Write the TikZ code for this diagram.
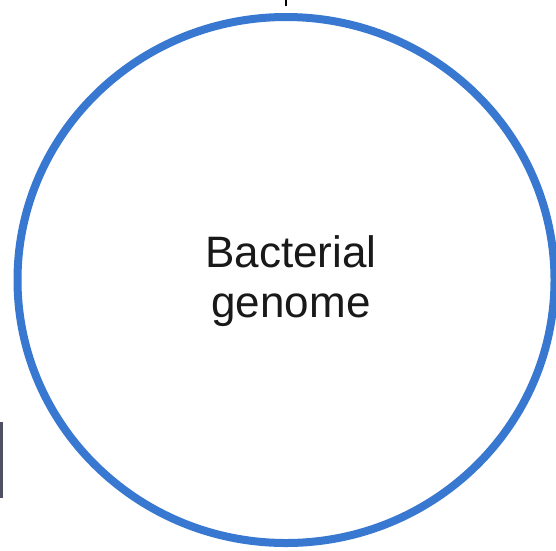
\documentclass[tikz,border=0pt]{standalone}
\usepackage{fontspec}
\setmainfont{Liberation Sans}
\definecolor{ringblue}{RGB}{56,120,208}
\definecolor{edgegray}{RGB}{80,80,100}
\begin{document}
\begin{tikzpicture}[x=1pt,y=-1pt,
  ring/.style={draw=ringblue,line width=8pt},
  label/.style={font=\fontsize{44}{50}\selectfont,text=black!90,inner sep=0pt,anchor=base}]
\useasboundingbox (0,0) rectangle (556,550);
\fill[white] (0,0) rectangle (556,550);
\draw[ring] (286,280) ellipse [x radius=268.5, y radius=263];
\node[label] (l1) at (291,267) {Bacterial};
\node[label] (l2) at (291,317) {genome};
\coordinate (t1) at (286,0);
\coordinate (t2) at (286,6);
\draw[line width=2pt,black] (t1) -- (t2);
\coordinate (e1) at (1.5,422);
\coordinate (e2) at (1.5,498);
\draw[line width=3pt,edgegray] (e1) -- (e2);
\end{tikzpicture}
\end{document}
